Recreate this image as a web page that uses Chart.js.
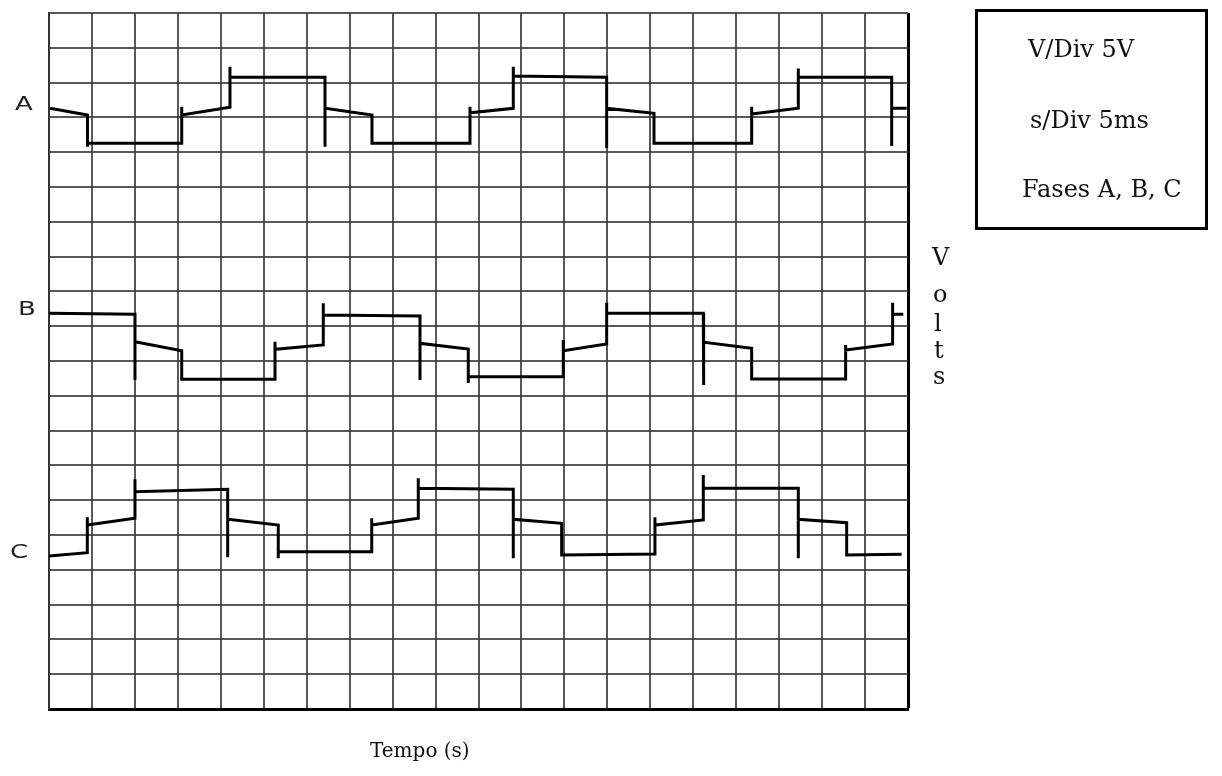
<!DOCTYPE html>
<html>
<head>
  <meta charset="utf-8">
  <title>Fases A, B, C</title>
  <script src="https://cdn.jsdelivr.net/npm/chart.js"></script>
  <style>
    body { margin: 0; background: #fff; }
    #wrap { position: relative; width: 1222px; height: 776px; }
    #osc { position: absolute; left: 0; top: 0; }
    .txt { position: absolute; font-family: "DejaVu Serif", serif; font-size: 24px; line-height: 24px; color: #111; white-space: nowrap; }
    .ch { position: absolute; font-family: "DejaVu Sans", sans-serif; font-size: 20px; line-height: 20px; color: #222; transform: scaleX(1.3); transform-origin: left top; }
    #box { position: absolute; left: 975px; top: 9px; width: 233px; height: 221px; border: 3px solid #000; box-sizing: border-box; }
  </style>
</head>
<body>
  <div id="wrap">
    <canvas id="osc" width="1222" height="776"></canvas>

    <div class="ch" style="left:15px; top:93px">A</div>
    <div class="ch" style="left:18px; top:298px">B</div>
    <div class="ch" style="left:10px; top:541px">C</div>

    <div id="box"></div>
    <div class="txt" style="left:1028px; top:37px">V/Div 5V</div>
    <div class="txt" style="left:1030px; top:108px">s/Div 5ms</div>
    <div class="txt" style="left:1022px; top:177px">Fases A, B, C</div>

    <div class="txt" style="left:932px; top:245px">V</div>
    <div class="txt" style="left:933px; top:282px">o</div>
    <div class="txt" style="left:934px; top:311px">l</div>
    <div class="txt" style="left:934px; top:338px">t</div>
    <div class="txt" style="left:933px; top:364px">s</div>

    <div class="txt" style="left:370px; top:740px; font-size:20px; line-height:20px">Tempo (s)</div>
  </div>

  <script>
    // time in ms (5 ms/div), screen position in V (5 V/div), 20 x 20 divisions
    var tA = [0.12, 4.48, 4.48, 4.48, 15.45, 15.45, 15.45, 21.07, 21.07, 21.07, 32.13, 32.13, 32.13, 37.60, 37.60, 49.01, 49.01, 49.01,
              54.05, 54.05, 54.05, 64.92, 64.92, 64.92, 70.43, 70.43, 81.80, 81.80, 81.80, 87.23, 87.23, 87.23, 98.10, 98.10, 98.10, 99.85];
    var vA = [86.31, 85.35, 80.79, 81.28, 81.28, 86.54, 85.35, 86.45, 92.28, 90.76, 90.76, 80.79, 86.31, 85.35, 81.28, 81.28, 86.54, 85.67,
              86.31, 92.28, 90.95, 90.76, 80.60, 86.31, 85.59, 81.28, 81.28, 86.54, 85.49, 86.31, 92.04, 90.76, 90.76, 80.89, 86.31, 86.31];

    var tB = [0.03, 10.01, 10.01, 10.01, 15.45, 15.45, 26.31, 26.31, 26.31, 31.93, 31.93, 31.93, 43.19, 43.19, 43.19, 48.81, 48.81, 48.81,
              59.87, 59.87, 59.87, 64.92, 64.92, 64.92, 76.17, 76.17, 76.25, 81.80, 81.80, 92.74, 92.74, 92.74, 98.21, 98.21, 98.21, 99.45];
    var vB = [56.85, 56.71, 47.27, 52.77, 51.48, 47.37, 47.37, 52.77, 51.68, 52.30, 58.29, 56.61, 56.47, 47.27, 52.54, 51.72, 46.84, 47.74,
              47.74, 53.02, 51.48, 52.44, 58.38, 56.85, 56.85, 46.55, 52.69, 51.82, 47.41, 47.41, 52.30, 51.58, 52.44, 58.38, 56.71, 56.71];

    var tC = [0, 4.46, 4.46, 4.46, 10.01, 10.01, 10.01, 20.80, 20.80, 20.80, 26.69, 26.69, 26.69, 37.57, 37.57, 37.57, 42.99, 42.99, 42.99,
              54.05, 54.05, 54.05, 59.68, 59.68, 70.54, 70.54, 70.54, 76.17, 76.17, 76.17, 87.23, 87.23, 87.23, 92.86, 92.86, 99.26];
    var vC = [21.98, 22.46, 27.54, 26.44, 27.40, 33.00, 31.22, 31.57, 21.80, 27.26, 26.44, 21.65, 22.60, 22.60, 27.40, 26.44, 27.40, 33.15, 31.71,
              31.57, 21.65, 27.26, 26.68, 22.13, 22.27, 27.54, 26.44, 27.16, 33.62, 31.71, 31.71, 21.65, 27.26, 26.77, 22.13, 22.23];

    function pts(t, v) {
      return t.map(function (x, i) { return { x: x, y: v[i] }; });
    }

    function trace(label, t, v) {
      return {
        label: label,
        data: pts(t, v),
        showLine: true,
        borderColor: '#000',
        borderWidth: 3,
        borderJoinStyle: 'miter',
        pointRadius: 0,
        tension: 0
      };
    }

    var gridColor = 'rgba(60,60,60,0.85)';

    var ctx = document.getElementById('osc').getContext('2d');
    var chart = new Chart(ctx, {
      type: 'scatter',
      data: {
        datasets: [trace('A', tA, vA), trace('B', tB, vB), trace('C', tC, vC)]
      },
      options: {
        responsive: false,
        devicePixelRatio: 1,
        animation: false,
        layout: { padding: { left: 49, top: 13, right: 314, bottom: 67 } },
        plugins: { legend: { display: false }, tooltip: { enabled: false } },
        scales: {
          x: {
            type: 'linear', min: 0, max: 100,
            ticks: { stepSize: 5, display: false },
            grid: {
              drawTicks: false,
              color: function (c) { return c.tick && c.tick.value === 100 ? '#000' : gridColor; },
              lineWidth: function (c) { return c.tick && c.tick.value === 100 ? 3 : 2; }
            },
            border: { display: true, color: '#000', width: 3 }
          },
          y: {
            type: 'linear', min: 0, max: 100,
            ticks: { stepSize: 5, display: false },
            grid: { drawTicks: false, color: gridColor, lineWidth: 2 },
            border: { display: true, color: '#333', width: 2 }
          }
        }
      }
    });
  </script>
</body>
</html>
